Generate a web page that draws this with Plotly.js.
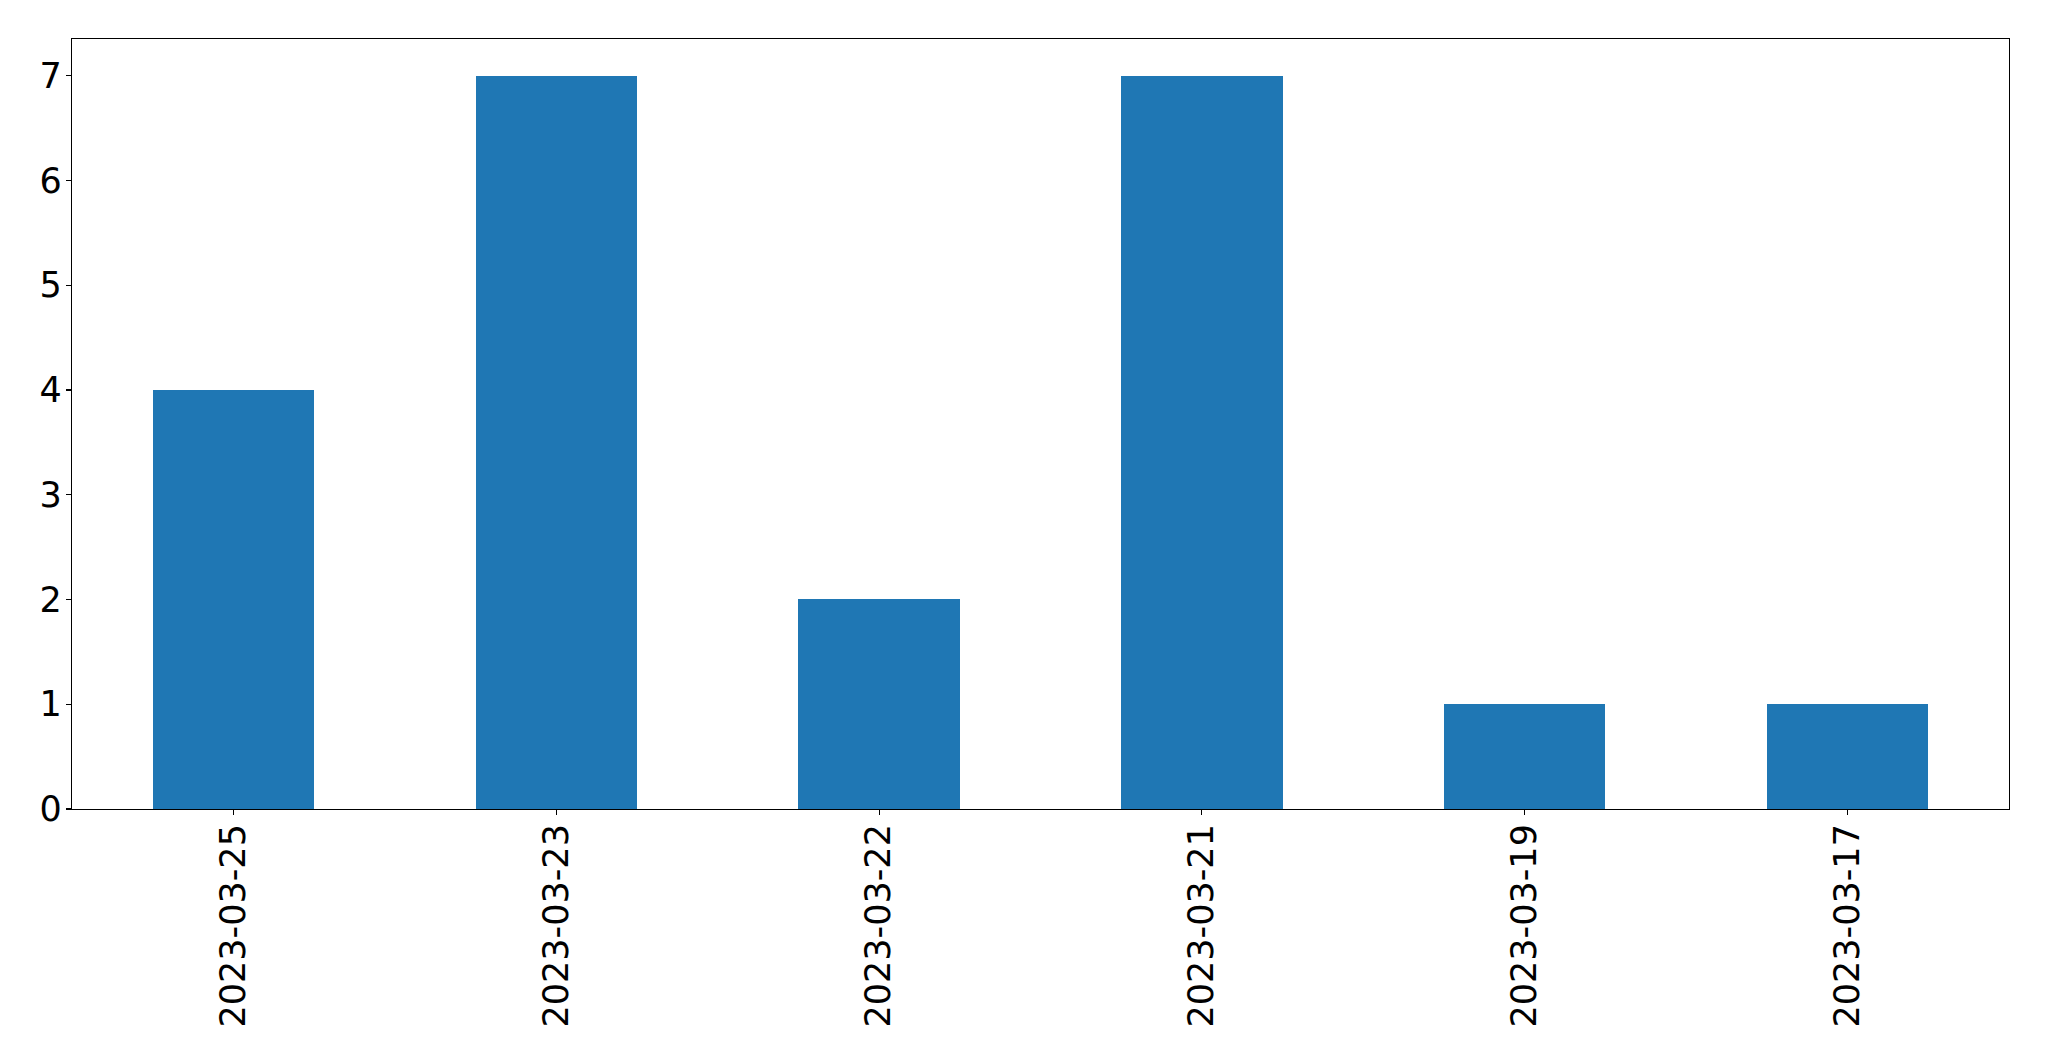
<!DOCTYPE html>
<html>
<head>
<meta charset="utf-8">
<script src="https://cdn.plot.ly/plotly-3.0.1.min.js"></script>
<style>html,body{margin:0;padding:0;background:#fff;}#chart{width:2049px;height:1061px;}</style>
</head>
<body>
<div id="chart"></div>
<script>
const categories = ["2023-03-25", "2023-03-23", "2023-03-22", "2023-03-21", "2023-03-19", "2023-03-17"];
const counts = [4, 7, 2, 7, 1, 1];
const yTicks = [0, 1, 2, 3, 4, 5, 6, 7];

const trace = {
  type: "bar",
  x: categories,
  y: counts,
  width: 0.5,
  marker: {color: "#1f77b4", line: {width: 0, color: "#1f77b4"}},
  hoverinfo: "x+y"
};

const axisFont = {family: "DejaVu Sans, sans-serif", size: 35, color: "#000"};

const layout = {
  width: 2049,
  height: 1061,
  paper_bgcolor: "#fff",
  plot_bgcolor: "#fff",
  margin: {l: 72, r: 40, t: 39, b: 252, pad: 0},
  showlegend: false,
  bargap: 0,
  xaxis: {
    type: "category",
    range: [-0.5, 5.5],
    tickangle: -90,
    tickfont: axisFont,
    ticks: "outside",
    ticklen: 5,
    tickwidth: 1.1,
    tickcolor: "#000",
    ticklabelstandoff: -5,
    showline: true,
    linecolor: "#000",
    linewidth: 1.1,
    mirror: true,
    showgrid: false,
    zeroline: false,
    fixedrange: true
  },
  yaxis: {
    range: [0, 7.35],
    tickvals: yTicks,
    ticktext: yTicks.map(String),
    tickfont: axisFont,
    ticks: "outside",
    ticklen: 5,
    tickwidth: 1.1,
    tickcolor: "#000",
    ticklabelstandoff: -3,
    showline: true,
    linecolor: "#000",
    linewidth: 1.1,
    mirror: true,
    showgrid: false,
    zeroline: false,
    fixedrange: true
  }
};

Plotly.newPlot("chart", [trace], layout, {displayModeBar: false, staticPlot: true});
</script>
</body>
</html>
